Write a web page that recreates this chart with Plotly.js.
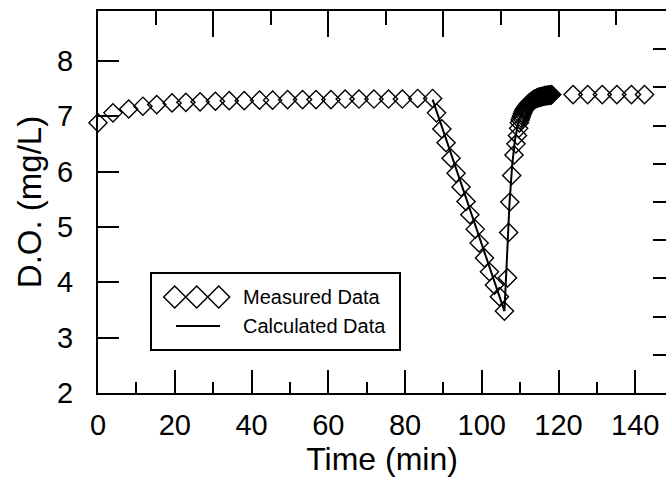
<!DOCTYPE html>
<html>
<head>
<meta charset="utf-8">
<script src="https://cdn.plot.ly/plotly-3.0.1.min.js"></script>
<style>html,body{margin:0;padding:0;background:#fff;}#chart{width:666px;height:482px;}</style>
</head>
<body>
<div id="chart"></div>
<script>
// Measured D.O. data (time in min, D.O. in mg/L)
const measTime = [0, 3.9, 8.0, 11.7, 15.3, 19.3, 22.9, 26.6, 30.6, 34.2, 38.1, 42.1, 45.5, 49.4, 53.3, 56.8, 60.7, 64.4, 68.0, 71.9, 75.7, 79.3, 83.3, 87.2,
  88.2, 89.6, 90.7, 92.0, 93.3, 94.6, 95.9, 96.9, 98.3, 99.3, 100.7, 102.0, 103.3, 104.6, 105.9,
  106.7, 107.0, 107.3, 107.8, 108.4, 108.9, 109.3, 109.6,
  109.8, 110.0, 110.2, 110.4, 110.6, 110.8, 111.0, 111.2, 111.4, 111.6, 111.8, 112.0, 112.2, 112.4, 112.6, 112.8, 113.0, 113.2, 113.4, 113.6, 113.8,
  114.0, 114.2, 114.4, 114.6, 114.8, 115.0, 115.2, 115.4, 115.6, 115.8, 116.0, 116.2, 116.4, 116.6, 116.8, 117.0, 117.2, 117.4, 117.6, 117.8, 118.0, 118.2,
  123.8, 127.6, 131.4, 135.2, 139.0, 142.4];
const measDO = [6.88, 7.06, 7.13, 7.18, 7.21, 7.24, 7.25, 7.26, 7.27, 7.28, 7.28, 7.29, 7.29, 7.30, 7.30, 7.30, 7.30, 7.31, 7.31, 7.31, 7.31, 7.31, 7.32, 7.32,
  7.06, 6.77, 6.52, 6.24, 5.97, 5.72, 5.46, 5.22, 4.96, 4.71, 4.44, 4.19, 3.95, 3.74, 3.48,
  4.08, 4.90, 5.45, 5.93, 6.30, 6.50, 6.65, 6.78,
  6.88, 6.93, 6.97, 7.01, 7.05, 7.08, 7.11, 7.13, 7.15, 7.17, 7.19, 7.21, 7.22, 7.24, 7.25, 7.26, 7.27, 7.28, 7.29, 7.30, 7.31,
  7.31, 7.32, 7.33, 7.33, 7.34, 7.34, 7.35, 7.35, 7.35, 7.36, 7.36, 7.36, 7.37, 7.37, 7.37, 7.37, 7.38, 7.38, 7.38, 7.38, 7.38, 7.39,
  7.39, 7.39, 7.39, 7.39, 7.39, 7.39];

// Calculated (model) D.O. curve
const calcTime = [87.2, 105.9, 106.5, 107.2, 107.9, 108.6, 109.4, 110.3, 111.5, 113.0, 115.0, 117.0, 118.3];
const calcDO   = [7.30, 3.48, 4.35, 5.40, 6.10, 6.55, 6.85, 7.05, 7.20, 7.30, 7.36, 7.38, 7.39];

const legendLabels = ["Measured Data", "Calculated Data"];
const xTitle = "Time (min)";
const yTitle = "D.O. (mg/L)";

// geometry helpers (pixel -> paper) for the hand-drawn legend
const ML = 98, MT = 11, MB = 89, FW = 666, FH = 482;
const PW = FW - ML, PH = FH - MT - MB;
const px = x => (x - ML) / PW;
const py = y => (FH - MB - y) / PH;

const FONT = "Liberation Sans, Arial, sans-serif";

const traces = [
  {x: measTime, y: measDO, type: "scatter", mode: "markers", name: legendLabels[0],
   marker: {symbol: "diamond-open", size: 14, color: "#000", line: {width: 1.4, color: "#000"}},
   showlegend: false, cliponaxis: false},
  {x: calcTime, y: calcDO, type: "scatter", mode: "lines", name: legendLabels[1],
   line: {color: "#000", width: 2}, showlegend: false},
  // dummy trace to create the mirrored top / right axes
  {x: [0], y: [2], xaxis: "x2", yaxis: "y2", mode: "markers", marker: {opacity: 0}, showlegend: false, hoverinfo: "skip"}
];

// legend decoration
const shapes = [
  {type: "rect", xref: "paper", yref: "paper", x0: px(151), x1: px(400), y0: py(350), y1: py(273),
   line: {color: "#000", width: 2}, fillcolor: "rgba(0,0,0,0)"},
  {type: "line", xref: "paper", yref: "paper", x0: px(176), x1: px(220), y0: py(326), y1: py(326),
   line: {color: "#000", width: 2}}
];
[174.7, 196.7, 218.7].forEach(cx => {
  const cy = 297, r = 11;
  shapes.push({type: "path", xref: "paper", yref: "paper",
    path: `M ${px(cx - r)} ${py(cy)} L ${px(cx)} ${py(cy - r)} L ${px(cx + r)} ${py(cy)} L ${px(cx)} ${py(cy + r)} Z`,
    line: {color: "#000", width: 1.5}});
});

const annotations = [
  {xref: "paper", yref: "paper", x: px(241), y: py(297), xanchor: "left", yanchor: "middle", showarrow: false,
   text: legendLabels[0], font: {family: FONT, size: 20, color: "#000"}},
  {xref: "paper", yref: "paper", x: px(241), y: py(326), xanchor: "left", yanchor: "middle", showarrow: false,
   text: legendLabels[1], font: {family: FONT, size: 20, color: "#000"}}
];

const layout = {
  width: FW, height: FH,
  margin: {l: ML, r: 0, t: MT, b: MB, pad: 0},
  paper_bgcolor: "#fff", plot_bgcolor: "#fff",
  font: {family: FONT, color: "#000"},
  showlegend: false,
  xaxis: {
    range: [0, 148], showgrid: false, zeroline: false,
    showline: true, linecolor: "#000", linewidth: 2,
    ticks: "inside", ticklen: 23, tickwidth: 2, tickcolor: "#000",
    tick0: 0, dtick: 20,
    minor: {dtick: 10, tick0: 0, ticks: "inside", ticklen: 11, tickwidth: 2, tickcolor: "#000", showgrid: false},
    tickfont: {family: FONT, size: 29, color: "#000"},
    ticklabelstandoff: 5,
    title: {text: xTitle, font: {family: FONT, size: 32, color: "#000"}, standoff: 5}
  },
  yaxis: {
    range: [2, 8.9], showgrid: false, zeroline: false,
    showline: true, linecolor: "#000", linewidth: 2,
    ticks: "inside", ticklen: 21, tickwidth: 2, tickcolor: "#000",
    tick0: 2, dtick: 1,
    tickfont: {family: FONT, size: 29, color: "#000"},
    ticklabelstandoff: 17,
    title: {text: yTitle, font: {family: FONT, size: 33, color: "#000"}, standoff: 6}
  },
  xaxis2: {
    overlaying: "x", side: "top", anchor: "y", range: [0, 148],
    showgrid: false, zeroline: false, showticklabels: false,
    showline: true, linecolor: "#000", linewidth: 2,
    ticks: "inside", ticklen: 26, tickwidth: 2, tickcolor: "#000",
    tick0: 0, dtick: 30,
    minor: {dtick: 15, tick0: 0, ticks: "inside", ticklen: 14, tickwidth: 2, tickcolor: "#000", showgrid: false}
  },
  yaxis2: {
    overlaying: "y", side: "right", anchor: "x", range: [2, 8.9],
    showgrid: false, zeroline: false, showticklabels: false, showline: false,
    ticks: "inside", ticklen: 13, tickwidth: 2, tickcolor: "#000",
    tick0: 2, dtick: 0.69
  },
  shapes: shapes,
  annotations: annotations
};

Plotly.newPlot("chart", traces, layout, {displayModeBar: false, staticPlot: true});
</script>
</body>
</html>
